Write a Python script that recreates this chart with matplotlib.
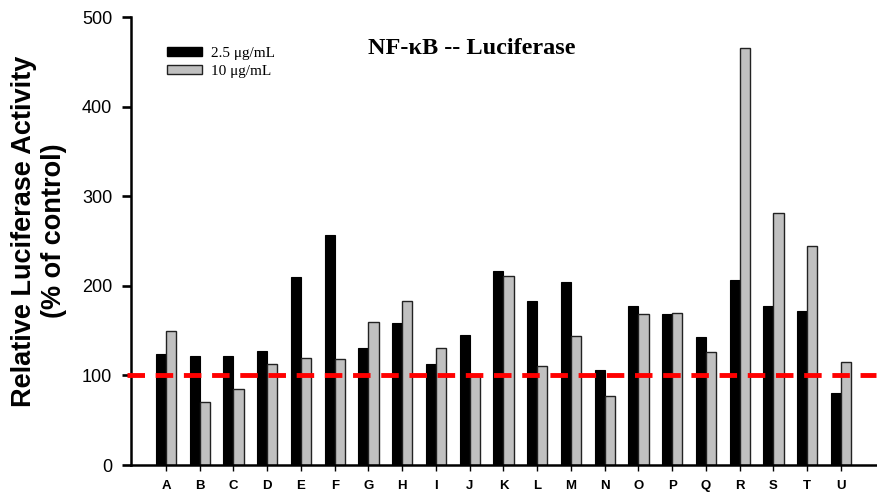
import matplotlib
matplotlib.use("Agg")
import matplotlib.pyplot as plt
import numpy as np
from matplotlib.patches import Patch

categories = list("ABCDEFGHIJKLMNOPQRSTU")
low_dose = [124, 122, 122, 127, 210, 257, 131, 159, 113, 145, 217,
            183, 204, 106, 178, 169, 143, 207, 177, 172, 80]
high_dose = [149, 70, 85, 113, 119, 118, 160, 183, 131, 99, 211,
             110, 144, 77, 169, 170, 126, 465, 281, 244, 115]
series_labels = ["2.5 \u03bcg/mL", "10 \u03bcg/mL"]
y_ticks = [0, 100, 200, 300, 400, 500]
control_level = 100

W, H = 877, 498
fig = plt.figure(figsize=(W / 100, H / 100), dpi=100)
ax = fig.add_axes([131 / W, 33 / H, 745 / W, 448 / H])

x = np.arange(len(categories))
w = 0.3
ax.bar(x - w / 2, low_dose, width=w, color="black", edgecolor="black", linewidth=0.8, zorder=2)
ax.bar(x + w / 2, high_dose, width=w, color="#c0c0c0", edgecolor="#222222", linewidth=1.0, zorder=2)

ax.axhline(control_level, xmin=-0.005, color="#ff0000", linewidth=3.5, dashes=(3.6, 2.2),
           zorder=3, clip_on=False)

ax.set_xlim(-1.037, 21.04)
ax.set_ylim(0, 500)
ax.set_yticks(y_ticks)
ax.set_xticks(x)
ax.set_xticklabels(categories, fontfamily="Liberation Sans", fontweight="bold", fontsize=9.5)
ax.tick_params(axis="y", direction="out", length=6.5, width=1.9, labelsize=13, pad=7)
ax.tick_params(axis="x", direction="out", length=4, width=1, pad=6.5)
for lab in ax.get_yticklabels():
    lab.set_fontfamily("Liberation Sans")

for side in ["top", "right"]:
    ax.spines[side].set_visible(False)
ax.spines["left"].set_linewidth(1.8)
ax.spines["bottom"].set_linewidth(1.8)

fig.text(39 / W, 1 - 231 / H, "Relative Luciferase Activity\n(% of control)",
         rotation=90, ha="center", va="center", multialignment="center",
         fontfamily="Liberation Sans", fontsize=19.5, fontweight="bold")

fig.text(472 / W, 1 - 48 / H, "NF-\u03baB -- Luciferase", ha="center", va="center",
         fontfamily="Liberation Serif", fontweight="bold", fontsize=17.5)

handles = [Patch(facecolor="black", edgecolor="black"),
           Patch(facecolor="#c0c0c0", edgecolor="#222222")]
leg = fig.legend(handles, series_labels, loc="upper left", bbox_to_anchor=(153 / W, 1 - 33 / H),
                 frameon=False, handlelength=2.3, handleheight=0.5, handletextpad=0.6,
                 labelspacing=0.35, prop={"family": "Liberation Serif", "size": 11})

fig.savefig("out.png", dpi=100)
